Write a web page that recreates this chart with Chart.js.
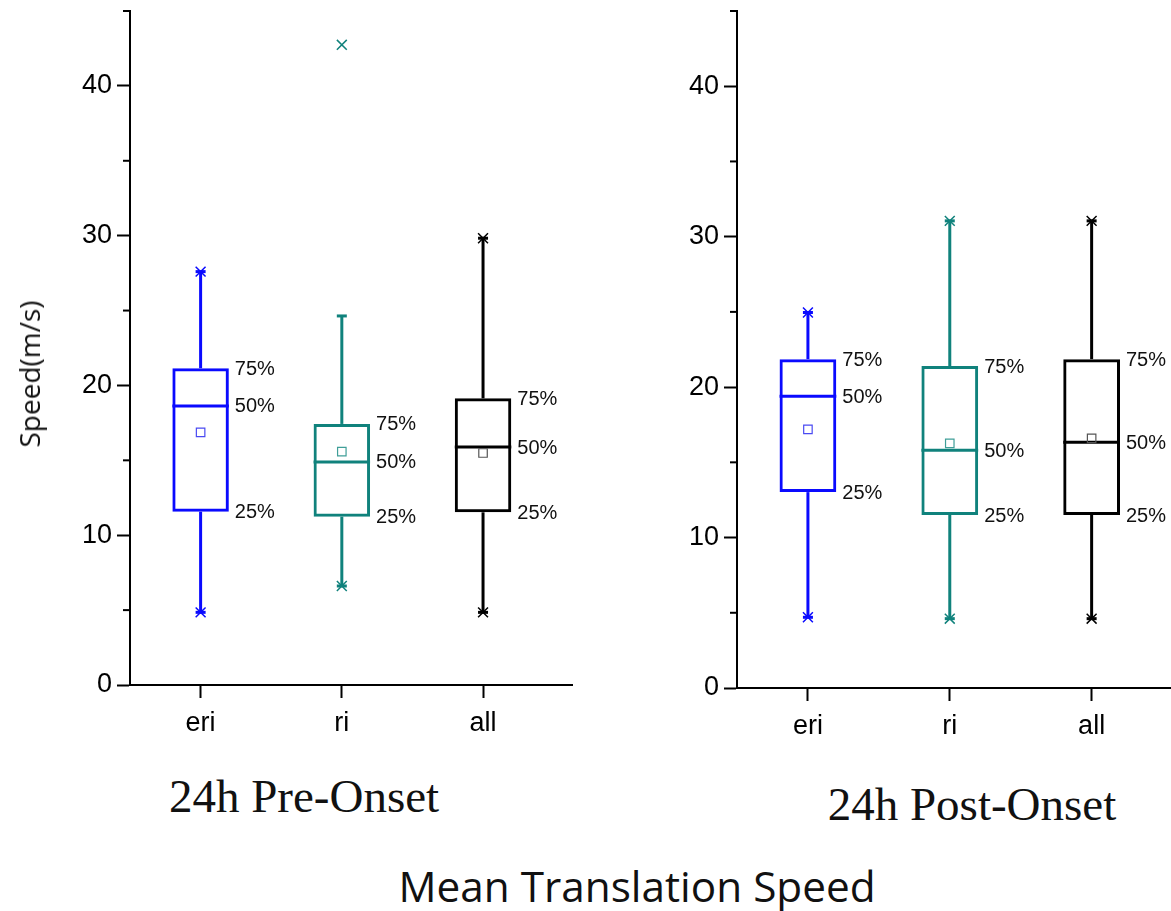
<!DOCTYPE html>
<html>
<head>
<meta charset="utf-8">
<script src="https://cdn.jsdelivr.net/npm/chart.js@4.4.1/dist/chart.umd.min.js"></script>
<style>
html,body{margin:0;padding:0;background:#fff;}
body{width:1171px;height:911px;overflow:hidden;position:relative;}
.wrap{position:absolute;top:0;height:760px;}
#w1{left:0;width:600px;}
#w2{left:607px;width:572px;}
.txt{position:absolute;white-space:nowrap;line-height:1;color:#111;transform:translate(-50%,-50%);}
.serif{font-family:"Liberation Serif","Times New Roman",serif;font-size:47px;}
.sans{font-family:"Open Sans","Noto Sans",sans-serif;}
</style>
</head>
<body>
<div class="wrap" id="w1"><canvas id="c1"></canvas></div>
<div class="wrap" id="w2"><canvas id="c2"></canvas></div>
<div class="txt sans" style="left:29px;top:374px;font-size:28px;transform:translate(-50%,-50%) rotate(-90deg);">Speed(m/s)</div>
<div class="txt serif" style="left:304px;top:796px;">24h Pre-Onset</div>
<div class="txt serif" style="left:972px;top:804px;">24h Post-Onset</div>
<div class="txt sans" style="left:637px;top:886px;font-size:42.3px;">Mean Translation Speed</div>
<script>
// ---- data ----
const categories = ['eri', 'ri', 'all'];
const positions = [1, 2, 3];
const yTickValues = [0, 10, 20, 30, 40];

const preQ1 = [11.57, 11.24, 11.53];
const preMedian = [18.63, 14.89, 15.89];
const preQ3 = [21.15, 17.43, 19.14];
const preMean = [16.87, 15.58, 15.49];
const preWhiskerLow = [4.85, 6.61, 4.85];
const preWhiskerHigh = [27.6, 24.64, 29.83];
const preMin = [4.85, 6.61, 4.85];
const preMax = [27.6, 42.74, 29.83];

const postQ1 = [13.02, 11.50, 11.50];
const postMedian = [19.40, 15.81, 16.33];
const postQ3 = [21.86, 21.40, 21.86];
const postMean = [17.19, 16.26, 16.59];
const postWhiskerLow = [4.70, 4.61, 4.61];
const postWhiskerHigh = [24.96, 31.05, 31.05];
const postMin = [4.70, 4.61, 4.61];
const postMax = [24.96, 31.05, 31.05];

const percentLabels = ['25%', '50%', '75%'];

// ---- styles ----
const lineColors = ['#0a0aff', '#10827c', '#000000'];
const meanColors = ['#4a4af2', '#3f9e98', '#555555'];
const tickFont = { family: '"Liberation Sans", Arial, sans-serif', size: 27 };

const boxExtras = {
  id: 'boxExtras',
  beforeDatasetsDraw(chart) {
    const s = chart.options.plugins.boxExtras;
    const xs = chart.scales.x, ys = chart.scales.y;
    const meta = chart.getDatasetMeta(0);
    const ctx = chart.ctx;
    ctx.save();
    ctx.lineWidth = 3;
    ctx.lineCap = 'butt';
    const seg = (x1, y1, x2, y2) => { ctx.beginPath(); ctx.moveTo(x1, y1); ctx.lineTo(x2, y2); ctx.stroke(); };
    positions.forEach((p, i) => {
      const cx = xs.getPixelForValue(p);
      const half = meta.data[i].width / 2;
      ctx.strokeStyle = lineColors[i];
      const yq1 = ys.getPixelForValue(s.q1[i]);
      const yq3 = ys.getPixelForValue(s.q3[i]);
      const yhi = ys.getPixelForValue(s.high[i]);
      const ylo = ys.getPixelForValue(s.low[i]);
      const ymed = ys.getPixelForValue(s.median[i]);
      seg(cx, yq3, cx, yhi);
      seg(cx, yq1, cx, ylo);
      seg(cx - 5, yhi, cx + 5, yhi);
      seg(cx - 5, ylo, cx + 5, ylo);
      seg(cx - half, ymed, cx + half, ymed);
    });
    ctx.restore();
  },
  afterDatasetsDraw(chart) {
    const s = chart.options.plugins.boxExtras;
    const xs = chart.scales.x, ys = chart.scales.y;
    const meta = chart.getDatasetMeta(0);
    const ctx = chart.ctx;
    ctx.save();
    ctx.fillStyle = '#111';
    ctx.font = '20px "Liberation Sans", Arial, sans-serif';
    ctx.textAlign = 'left';
    ctx.textBaseline = 'middle';
    positions.forEach((p, i) => {
      const x = xs.getPixelForValue(p) + meta.data[i].width / 2 + 6;
      [s.q1[i], s.median[i], s.q3[i]].forEach((v, k) => {
        ctx.fillText(percentLabels[k], x, ys.getPixelForValue(v) + 1);
      });
    });
    // minor ticks on the y axis
    ctx.strokeStyle = '#000';
    ctx.lineWidth = 2;
    ys.ticks.forEach(t => {
      if (t.value % 10 !== 0) {
        const y = ys.getPixelForValue(t.value);
        ctx.beginPath();
        ctx.moveTo(chart.chartArea.left - 7, y);
        ctx.lineTo(chart.chartArea.left, y);
        ctx.stroke();
      }
    });
    ctx.restore();
  }
};

function makeChart(id, d, xMax, padRight, xHeight) {
  return new Chart(document.getElementById(id), {
    type: 'bar',
    data: {
      datasets: [
        {
          type: 'bar',
          data: positions.map((p, i) => ({ x: p, y: [d.q1[i], d.q3[i]] })),
          backgroundColor: 'rgba(0,0,0,0)',
          borderColor: lineColors,
          borderWidth: 3,
          borderSkipped: false,
          barPercentage: 0.5,
          categoryPercentage: 0.8,
          order: 3
        },
        {
          type: 'scatter',
          data: positions.map((p, i) => ({ x: p, y: d.mean[i] })),
          pointStyle: 'rect',
          pointRadius: 6,
          pointBorderWidth: 1.2,
          pointBorderColor: meanColors,
          pointBackgroundColor: 'rgba(255,255,255,0)',
          order: 2
        },
        {
          type: 'scatter',
          data: positions.map((p, i) => ({ x: p, y: d.max[i] })).concat(positions.map((p, i) => ({ x: p, y: d.min[i] }))),
          pointStyle: 'crossRot',
          pointRadius: 7,
          pointBorderWidth: 1.5,
          pointBorderColor: lineColors.concat(lineColors),
          order: 1
        }
      ]
    },
    options: {
      responsive: true,
      maintainAspectRatio: false,
      animation: false,
      events: [],
      layout: { padding: { top: 11, right: padRight, left: 0, bottom: 0 } },
      plugins: {
        legend: { display: false },
        tooltip: { enabled: false },
        boxExtras: { q1: d.q1, q3: d.q3, median: d.median, low: d.low, high: d.high }
      },
      scales: {
        x: {
          type: 'linear',
          min: 0.5,
          max: xMax,
          offset: false,
          afterBuildTicks: sc => { sc.ticks = positions.map(v => ({ value: v })); },
          afterFit: sc => {
            sc.height = xHeight;
            sc.paddingLeft = 0; sc.paddingRight = 0; sc.paddingTop = 0; sc.paddingBottom = 0;
          },
          ticks: {
            callback: (v, i) => categories[i],
            color: '#000',
            font: tickFont,
            padding: 9,
            maxRotation: 0
          },
          grid: { offset: false, drawOnChartArea: false, drawTicks: true, tickLength: 13, tickWidth: 2, tickColor: '#000' },
          border: { display: true, color: '#000', width: 2 }
        },
        y: {
          type: 'linear',
          min: 0,
          max: 45,
          afterBuildTicks: sc => {
            const t = [];
            for (let v = 0; v <= 45; v += 5) t.push({ value: v });
            sc.ticks = t;
          },
          afterFit: sc => {
            sc.width = 130;
            sc.paddingLeft = 0; sc.paddingRight = 0; sc.paddingTop = 0; sc.paddingBottom = 0;
          },
          ticks: {
            callback: v => (yTickValues.includes(v) ? String(v) : ''),
            color: '#000',
            font: tickFont,
            padding: 5
          },
          grid: {
            drawOnChartArea: false,
            drawTicks: true,
            tickLength: 13,
            tickWidth: 2,
            tickColor: c => (c.tick && c.tick.value % 10 === 0 ? '#000' : 'rgba(0,0,0,0)')
          },
          border: { display: true, color: '#000', width: 2 }
        }
      }
    },
    plugins: [boxExtras]
  });
}

makeChart('c1', { q1: preQ1, q3: preQ3, median: preMedian, mean: preMean, low: preWhiskerLow, high: preWhiskerHigh, min: preMin, max: preMax }, 3.63, 28, 75);
makeChart('c2', { q1: postQ1, q3: postQ3, median: postMedian, mean: postMean, low: postWhiskerLow, high: postWhiskerHigh, min: postMin, max: postMax }, 3.556, 0, 72);
</script>
</body>
</html>
